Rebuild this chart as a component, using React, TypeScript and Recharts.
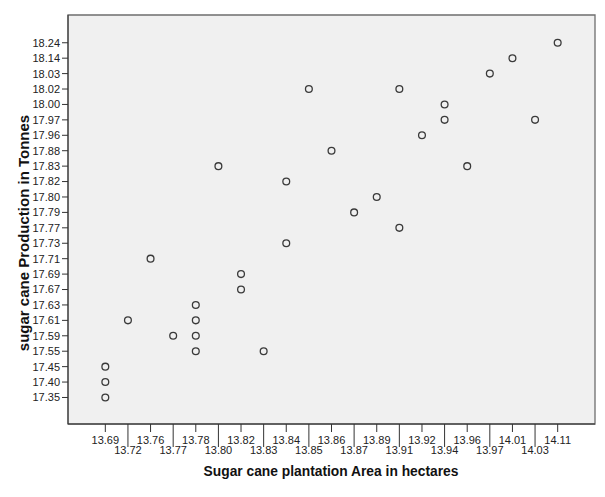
import React from 'react';
import { ScatterChart, Scatter, XAxis, YAxis, ReferenceArea } from 'recharts';

// category labels on each axis (SPSS treats them as evenly spaced categories)
const xLabels = ['13.69', '13.72', '13.76', '13.77', '13.78', '13.80', '13.82', '13.83', '13.84', '13.85', '13.86',
  '13.87', '13.89', '13.91', '13.92', '13.94', '13.96', '13.97', '14.01', '14.03', '14.11'];
const yLabels = ['17.35', '17.40', '17.45', '17.55', '17.59', '17.61', '17.63', '17.67', '17.69', '17.71', '17.73',
  '17.77', '17.79', '17.80', '17.82', '17.83', '17.88', '17.96', '17.97', '18.00', '18.02', '18.03', '18.14', '18.24'];

// observations: plantation area / production
const areaValues = ['13.69', '13.69', '13.69', '13.72', '13.76', '13.77', '13.78', '13.78', '13.78', '13.78', '13.80',
  '13.82', '13.82', '13.83', '13.84', '13.84', '13.85', '13.86', '13.87', '13.89', '13.91', '13.91', '13.92',
  '13.94', '13.94', '13.96', '13.97', '14.01', '14.03', '14.11'];
const productionValues = ['17.45', '17.40', '17.35', '17.61', '17.71', '17.59', '17.63', '17.61', '17.59', '17.55', '17.83',
  '17.69', '17.67', '17.55', '17.82', '17.73', '18.02', '17.88', '17.79', '17.80', '18.02', '17.77', '17.96',
  '18.00', '17.97', '17.83', '18.03', '18.14', '17.97', '18.24'];

const data = areaValues.map((a, i) => ({
  x: xLabels.indexOf(a),
  y: yLabels.indexOf(productionValues[i]),
}));

const X_DOMAIN: [number, number] = [-1.65, 21.65];
const Y_DOMAIN: [number, number] = [-1.72, 24.8];
const FONT = '"Liberation Sans", Arial, sans-serif';
const AXIS_Y = 424;

const XTick = (props: any) => {
  const { x, payload } = props;
  const odd = payload.value % 2 === 1;
  return (
    <g>
      <line x1={x} y1={AXIS_Y} x2={x} y2={AXIS_Y + (odd ? 23 : 8)} stroke="#333" strokeWidth={1} />
      <text x={x} y={odd ? 454 : 444} textAnchor="middle" fontSize={11} fill="#222" fontFamily={FONT}>
        {xLabels[payload.value]}
      </text>
    </g>
  );
};

const Ring = (props: any) => (
  <circle cx={props.cx} cy={props.cy} r={3.4} fill="none" stroke="#3a3a3a" strokeWidth={1.3} />
);

export default function App() {
  return (
    <div style={{ position: 'absolute', left: 0, top: 0, width: 605, height: 497, background: '#fff' }}>
      <ScatterChart width={605} height={497} margin={{ top: 15, right: 10, bottom: 0, left: 18 }}>
        <XAxis
          type="number"
          dataKey="x"
          domain={X_DOMAIN}
          ticks={xLabels.map((_, i) => i)}
          interval={0}
          tick={<XTick />}
          tickLine={false}
          tickSize={0}
          tickMargin={0}
          height={73}
          axisLine={{ stroke: '#333' }}
          allowDataOverflow
        />
        <YAxis
          type="number"
          dataKey="y"
          domain={Y_DOMAIN}
          ticks={yLabels.map((_, i) => i)}
          interval={0}
          tickFormatter={(v: number) => yLabels[v]}
          tick={{ fontSize: 11, fill: '#222', fontFamily: FONT }}
          tickLine={{ stroke: '#333' }}
          tickSize={6}
          tickMargin={2}
          width={50}
          axisLine={{ stroke: '#333' }}
          allowDataOverflow
        />
        <ReferenceArea
          x1={X_DOMAIN[0]}
          x2={X_DOMAIN[1]}
          y1={Y_DOMAIN[0]}
          y2={Y_DOMAIN[1]}
          fill="#f0f0f0"
          fillOpacity={1}
          stroke="#6e6e6e"
          strokeWidth={1.3}
        />
        <Scatter data={data} shape={<Ring />} isAnimationActive={false} />
      </ScatterChart>
      <div style={{
        position: 'absolute', left: 23, top: 233, transform: 'translate(-50%, -50%) rotate(-90deg)',
        whiteSpace: 'nowrap', fontFamily: FONT, fontWeight: 700, fontSize: 15, color: '#111',
      }}>
        sugar cane Production in Tonnes
      </div>
      <div style={{
        position: 'absolute', left: 331, top: 471, transform: 'translate(-50%, -50%)',
        whiteSpace: 'nowrap', fontFamily: FONT, fontWeight: 700, fontSize: 13.8, color: '#111',
      }}>
        Sugar cane plantation Area in hectares
      </div>
    </div>
  );
}
